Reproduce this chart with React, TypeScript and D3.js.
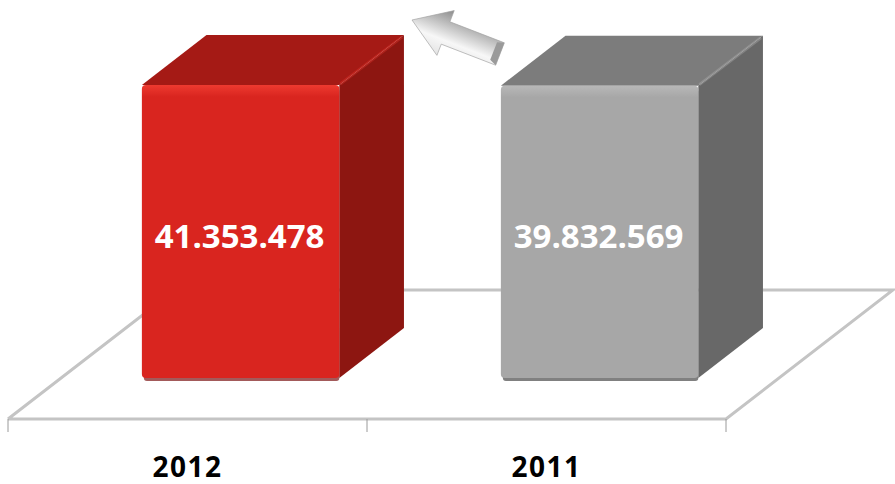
import React from "react";
import * as d3 from "d3";

const categories = ["2012", "2011"];
const values = [41353478, 39832569];
const valueLabels = ["41.353.478", "39.832.569"];

const W = 895;
const H = 484;

const palette = [
  { front: "#d9251f", frontHi: "#ee3a30", top: "#a51a15", side: "#8d1611", shadow: "#a35a5a" },
  { front: "#a7a7a7", frontHi: "#b8b8b8", top: "#7c7c7c", side: "#686868", shadow: "#808080" },
];

export default function App() {
  const floorLeft = 8;
  const floorRight = 726;
  const floorFrontY = 419;
  const depthDx = 167;
  const depthDy = -129;
  const f0 = 0.318;
  const f1 = 0.705;

  const x = d3
    .scaleBand<string>()
    .domain(categories)
    .range([floorLeft, floorRight])
    .paddingInner(0.45)
    .paddingOuter(0.225);

  const baseY = floorFrontY + depthDy * f0;
  const y = d3.scaleLog().domain([1, values[0]]).range([baseY, 85]);

  const bdx = depthDx * (f1 - f0);
  const bdy = depthDy * (f1 - f0);
  const shiftX = depthDx * f0;

  const step = x.step();
  const ticks = [0, 1, 2].map((i) => floorLeft + i * step);

  const line = d3.line();

  const tail: [number, number] = [500, 54];
  const tip: [number, number] = [412, 20];
  const ang = Math.atan2(tip[1] - tail[1], tip[0] - tail[0]);
  const len = Math.hypot(tip[0] - tail[0], tip[1] - tail[1]);
  const headLen = 36;
  const shaftW = 12;
  const headW = 24;
  const arrowPts: [number, number][] = [
    [0, -shaftW],
    [len - headLen, -shaftW],
    [len - headLen, -headW],
    [len, 0],
    [len - headLen, headW],
    [len - headLen, shaftW],
    [0, shaftW],
  ];

  return (
    <div style={{ position: "absolute", left: 0, top: 0 }}>
      <svg width={W} height={H} viewBox={`0 0 ${W} ${H}`} style={{ display: "block", background: "#fff" }}>
        <defs>
          <linearGradient id="arrowGrad" x1="0" y1="0" x2="0" y2="1">
            <stop offset="0" stopColor="#e3e3e3" />
            <stop offset="0.35" stopColor="#f7f7f7" />
            <stop offset="0.7" stopColor="#bdbdbd" />
            <stop offset="1" stopColor="#8c8c8c" />
          </linearGradient>
          {palette.map((p, i) => (
            <linearGradient key={i} id={`front${i}`} x1="0" y1="0" x2="0" y2="1">
              <stop offset="0" stopColor={p.frontHi} />
              <stop offset="0.04" stopColor={p.front} />
              <stop offset="1" stopColor={p.front} />
            </linearGradient>
          ))}
        </defs>

        <g fill="none" stroke="#c4c4c4" strokeWidth={3}>
          <path
            d={
              line([
                [floorLeft, floorFrontY],
                [floorLeft + depthDx, floorFrontY + depthDy],
                [floorRight + depthDx, floorFrontY + depthDy],
                [floorRight, floorFrontY],
                [floorLeft, floorFrontY],
              ]) || ""
            }
          />
        </g>
        <g stroke="#9a9a9a" strokeWidth={1}>
          {ticks.map((t, i) => (
            <line key={i} x1={t} x2={t} y1={floorFrontY} y2={floorFrontY + 13} />
          ))}
        </g>

        {categories.map((c, i) => {
          const p = palette[i];
          const x0 = (x(c) || 0) + shiftX;
          const x1 = x0 + x.bandwidth();
          const top = y(values[i]);
          const bot = baseY;
          const topFace = line([
            [x0, top],
            [x0 + bdx, top + bdy],
            [x1 + bdx, top + bdy],
            [x1, top],
          ]);
          const sideFace = line([
            [x1, top],
            [x1 + bdx, top + bdy],
            [x1 + bdx, bot + bdy],
            [x1, bot],
          ]);
          return (
            <g key={c}>
              <rect x={x0 + 2} y={top + 3} width={x1 - x0 - 2} height={bot - top} fill={p.shadow} rx={3} />
              <path d={(topFace || "") + "Z"} fill={p.top} />
              <path d={(sideFace || "") + "Z"} fill={p.side} />
              <line
                x1={x1 + 1}
                y1={top - 1}
                x2={x1 + bdx - 2}
                y2={top + bdy + 2}
                stroke={p.frontHi}
                strokeOpacity={0.35}
                strokeWidth={3}
              />
              <rect x={x0} y={top} width={x1 - x0} height={bot - top} fill={`url(#front${i})`} rx={4} />
              <text
                x={(x0 + x1) / 2 - 1}
                y={235}
                textAnchor="middle"
                dominantBaseline="central"
                fill="#ffffff"
                fontFamily="'Open Sans', sans-serif"
                fontWeight="bold"
                fontSize={33}
              >
                {valueLabels[i]}
              </text>
            </g>
          );
        })}

        <g transform={`translate(${tail[0]},${tail[1]}) rotate(${(ang * 180) / Math.PI})`}>
          <path d={(line(arrowPts) || "") + "Z"} fill="url(#arrowGrad)" stroke="#a0a0a0" strokeWidth={0.6} />
          <path d={(line([[0, -shaftW], [7, -shaftW + 3], [7, shaftW - 2], [0, shaftW]]) || "") + "Z"} fill="#9a9a9a" />
        </g>

        {categories.map((c) => (
          <text
            key={c}
            x={(x(c) || 0) + x.bandwidth() / 2}
            y={477}
            textAnchor="middle"
            fill="#000"
            fontFamily="'Open Sans', sans-serif"
            fontWeight="bold"
            fontSize={28}
            letterSpacing={1.5}
          >
            {c}
          </text>
        ))}
      </svg>
    </div>
  );
}
